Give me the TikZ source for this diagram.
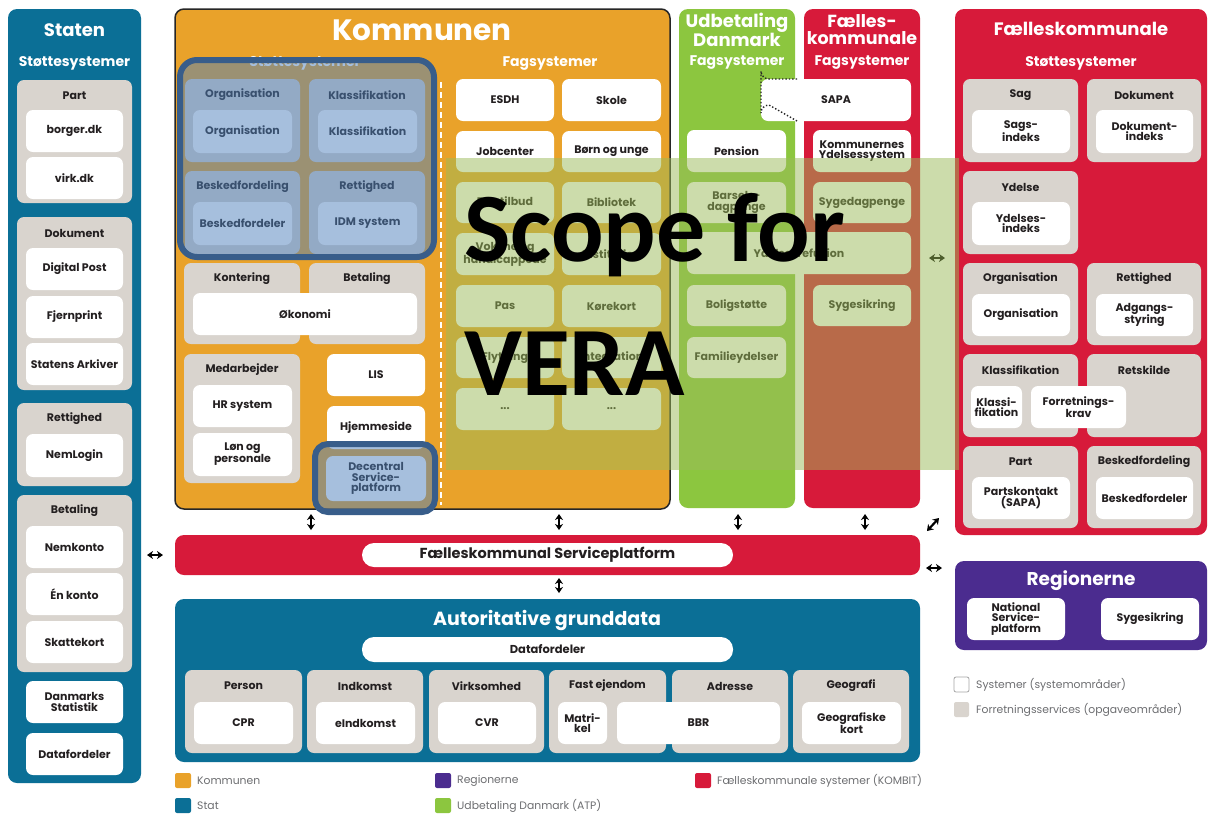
\documentclass[tikz,border=0pt]{standalone}
\usepackage{fontspec}
\setmainfont{Poppins}
\newfontfamily\scopefont{Carlito}
\usetikzlibrary{arrows.meta}

\definecolor{statblue}{HTML}{0B6F96}
\definecolor{kommorange}{HTML}{E9A22A}
\definecolor{udbgreen}{HTML}{8CC63F}
\definecolor{kombitred}{HTML}{D71A3A}
\definecolor{regpurple}{HTML}{4B2C8F}
\definecolor{grpgray}{HTML}{D9D4CE}
\definecolor{txtdark}{HTML}{231F20}
\definecolor{legtxt}{HTML}{6D6E71}
\definecolor{scopegreen}{HTML}{9BBB59}
\definecolor{hlblue}{HTML}{4F81BD}
\definecolor{hlborder}{HTML}{385D8A}

\tikzset{
  area/.style={rounded corners=9pt, inner sep=0pt},
  grp/.style={fill=grpgray, rounded corners=7pt, inner sep=0pt},
  wbox/.style={fill=white, rounded corners=7pt, inner sep=0pt, align=center,
    text=txtdark, font=\bfseries\fontsize{11}{10.5}\selectfont},
  pill/.style={fill=white, rounded corners=12pt, inner sep=0pt, text=txtdark},
  gtitle/.style={inner sep=0pt, text=txtdark, font=\bfseries\fontsize{11}{11}\selectfont},
  coltitle/.style={inner sep=0pt, text=white, align=center, font=\bfseries\fontsize{18}{17}\selectfont},
  subtitle/.style={inner sep=0pt, text=white, font=\bfseries\fontsize{14}{14}\selectfont},
  legsq/.style={rounded corners=2pt, inner sep=0pt},
  legtext/.style={inner sep=0pt, anchor=west, text=legtxt, font=\fontsize{10.8}{10.8}\selectfont},
  hilite/.style={fill=hlblue, fill opacity=0.5, draw=hlborder, line width=6pt},
  scopeov/.style={fill=scopegreen, fill opacity=0.5, inner sep=0pt},
  scopetext/.style={inner sep=0pt, anchor=base west, text=black, font=\scopefont\bfseries\fontsize{98}{98}\selectfont},
  dblarrow/.style={{Stealth[length=6pt,width=8pt]}-{Stealth[length=6pt,width=8pt]}, line width=2.2pt, black},
}

% box from corner (x1,y1) to (x2,y2): style, name, x1, y1, x2, y2, text
\newcommand\mkbox[7]{\node[#1, minimum width={#5-#3}, minimum height={#6-#4}] (#2) at ({(#3+#5)/2},{(#4+#6)/2}) {#7};}
% grey service group with its heading: name, x1, y1, x2, y2, heading
\newcommand\mkgrp[6]{\mkbox{grp}{#1}{#2}{#3}{#4}{#5}{}\node[gtitle] (#1-t) at ({(#2+#4)/2},{#3+16}) {#6};}

\begin{document}
\begin{tikzpicture}[x=1pt,y=-1pt]
\fill[white] (0,0) rectangle (1208,815);
\useasboundingbox (0,0) rectangle (1208,815);

% ---------------- Staten ----------------
\mkbox{area,fill=statblue}{staten}{8}{9}{141}{783}{}
\node[coltitle] (staten-t) at (74.5,30) {Staten};
\node[subtitle] (staten-s) at (74.5,63) {Støttesystemer};
\mkgrp{st-part}{17}{80}{132}{203}{Part}
\mkbox{wbox}{borger}{26}{110}{123}{152}{borger.dk}
\mkbox{wbox}{virk}{26}{157}{123}{199}{virk.dk}
\mkgrp{st-dok}{17}{217}{132}{390}{Dokument}
\mkbox{wbox}{dpost}{26}{248}{123}{290}{Digital Post}
\mkbox{wbox}{fjern}{26}{296}{123}{338}{Fjernprint}
\mkbox{wbox}{arkiv}{26}{343}{123}{385}{Statens Arkiver}
\mkgrp{st-ret}{17}{403}{132}{486}{Rettighed}
\mkbox{wbox}{nemlogin}{26}{434}{123}{477}{NemLogin}
\mkgrp{st-bet}{17}{495}{132}{672}{Betaling}
\mkbox{wbox}{nemkonto}{26}{526}{123}{568}{Nemkonto}
\mkbox{wbox}{enkonto}{26}{573}{123}{615}{Én konto}
\mkbox{wbox}{skat}{26}{621}{123}{663}{Skattekort}
\mkbox{wbox}{dst}{26}{681}{123}{723}{Danmarks\\Statistik}
\mkbox{wbox}{st-df}{26}{733}{123}{775}{Datafordeler}

% ---------------- Kommunen ----------------
\mkbox{area,fill=kommorange,draw=black!85,line width=1.5pt}{kommunen}{175}{9}{670}{509}{}
\node[coltitle, font=\bfseries\fontsize{29.5}{29.5}\selectfont] (kommunen-t) at (422,30) {Kommunen};
\node[subtitle] (k-stotte) at (305,63) {Støttesystemer};
\node[subtitle] (k-fag) at (550,64) {Fagsystemer};
\coordinate (kdash-top) at (441,82);
\coordinate (kdash-bot) at (441,505);
\draw[white, line width=2pt, dash pattern=on 6pt off 4pt] (kdash-top) -- (kdash-bot);

\mkgrp{k-org}{185}{79}{300}{162}{Organisation}
\mkbox{wbox}{k-orgb}{193}{110}{292}{153}{Organisation}
\mkgrp{k-kla}{309}{79}{425}{162}{Klassifikation}
\mkbox{wbox}{k-klab}{318}{110}{417}{153}{Klassifikation}
\mkgrp{k-besk}{185}{171}{300}{254}{Beskedfordeling}
\mkbox{wbox}{k-beskb}{193}{202}{292}{245}{Beskedfordeler}
\mkgrp{k-ret}{309}{171}{425}{254}{Rettighed}
\mkbox{wbox}{k-retb}{318}{202}{417}{245}{IDM system}
\mkgrp{k-kont}{184}{263}{300}{344}{Kontering}
\mkgrp{k-bet}{309}{263}{425}{344}{Betaling}
\mkbox{wbox}{k-oko}{193}{293}{417}{335}{Økonomi}
\mkgrp{k-med}{184}{354}{300}{483}{Medarbejder}
\mkbox{wbox}{k-hr}{193}{385}{292}{427}{HR system}
\mkbox{wbox}{k-lon}{193}{433}{292}{476}{Løn og\\personale}
\mkbox{wbox}{k-lis}{327}{354}{425}{396}{LIS}
\mkbox{wbox}{k-hjem}{327}{406}{425}{449}{Hjemmeside}
\mkbox{wbox}{k-dsp}{326}{456}{426}{501}{Decentral\\Service-\\platform}

% Kommunen: Fagsystemer
\mkbox{wbox}{f-esdh}{456}{79}{554}{121}{ESDH}
\mkbox{wbox}{f-skole}{562}{79}{661}{121}{Skole}
\mkbox{wbox}{f-job}{456}{131}{554}{172}{Jobcenter}
\mkbox{wbox}{f-born}{562}{131}{661}{172}{Børn og unge}
\mkbox{wbox}{f-dag}{456}{182}{554}{223}{Dagtilbud}
\mkbox{wbox}{f-bib}{562}{182}{661}{223}{Bibliotek}
\mkbox{wbox}{f-voks}{456}{233}{554}{275}{Voksne og\\handicappede}
\mkbox{wbox}{f-inst}{562}{233}{661}{275}{Institution}
\mkbox{wbox}{f-pas}{456}{285}{554}{327}{Pas}
\mkbox{wbox}{f-kore}{562}{285}{661}{327}{Kørekort}
\mkbox{wbox}{f-flyt}{456}{337}{554}{378}{Flytning}
\mkbox{wbox}{f-integ}{562}{337}{661}{378}{Integration}
\mkbox{wbox}{f-more1}{456}{388}{554}{430}{...}
\mkbox{wbox}{f-more2}{562}{388}{661}{430}{...}

% ---------------- Udbetaling Danmark / Fælleskommunale fagsystemer ----------------
\mkbox{area,fill=udbgreen}{udb}{679}{9}{795}{508}{}
\node[coltitle, font=\bfseries\fontsize{18}{17}\selectfont] (udb-t) at (737,29.5) {Udbetaling\\Danmark};
\node[subtitle] (udb-s) at (737,63) {Fagsystemer};
\mkbox{area,fill=kombitred}{fkfag}{804}{9}{920}{508}{}
\node[coltitle, font=\bfseries\fontsize{17.5}{17}\selectfont] (fkfag-t) at (862,29.5) {Fælles-\\kommunale};
\node[subtitle] (fkfag-s) at (862,63) {Fagsystemer};

\mkbox{wbox}{sapa}{761}{79}{911}{121}{SAPA}
\coordinate (sapa-d1) at (797,79);
\coordinate (sapa-d2) at (797,121);
\draw[black!85, line width=1.4pt, dotted] (sapa-d1) -- (769,79) arc[start angle=90, end angle=180, radius=8]
  -- (761,113) arc[start angle=180, end angle=270, radius=8] -- (sapa-d2);

\mkbox{wbox}{pension}{687}{130}{786}{172}{Pension}
\mkbox{wbox}{kys}{813}{130}{911}{172}{Kommunernes\\Ydelsessystem}
\mkbox{wbox}{barsel}{687}{182}{786}{223}{Barsels-\\dagpenge}
\mkbox{wbox}{syged}{813}{182}{911}{223}{Sygedagpenge}
\mkbox{wbox}{refusion}{687}{232}{911}{274}{Ydelsesrefusion}
\mkbox{wbox}{bolig}{687}{285}{786}{326}{Boligstøtte}
\mkbox{wbox}{sygesik}{813}{285}{911}{326}{Sygesikring}
\mkbox{wbox}{familie}{687}{337}{786}{378}{Familieydelser}

% ---------------- Fælleskommunale støttesystemer ----------------
\mkbox{area,fill=kombitred}{fks}{955}{9}{1207}{535}{}
\node[coltitle] (fks-t) at (1081,29) {Fælleskommunale};
\node[subtitle] (fks-s) at (1081,63) {Støttesystemer};
\mkgrp{fks-sag}{963}{79}{1078}{162}{Sag}
\mkbox{wbox}{sagsidx}{972}{110}{1070}{153}{Sags-\\indeks}
\mkgrp{fks-dok}{1087}{79}{1201}{162}{Dokument}
\mkbox{wbox}{dokidx}{1096}{110}{1193}{153}{Dokument-\\indeks}
\mkgrp{fks-ydelse}{963}{171}{1078}{254}{Ydelse}
\mkbox{wbox}{ydidx}{972}{202}{1070}{245}{Ydelses-\\indeks}
\mkgrp{fks-org}{963}{263}{1078}{345}{Organisation}
\mkbox{wbox}{fks-orgb}{972}{294}{1070}{336}{Organisation}
\mkgrp{fks-ret}{1087}{263}{1201}{345}{Rettighed}
\mkbox{wbox}{adgang}{1096}{294}{1193}{336}{Adgangs-\\styring}
\mkgrp{fks-kla}{963}{354}{1078}{437}{Klassifikation}
\mkgrp{fks-retsk}{1087}{354}{1201}{437}{Retskilde}
\mkbox{wbox}{fks-klab}{971}{386}{1022}{428}{Klassi-\\fikation}
\mkbox{wbox}{forrkrav}{1031}{386}{1126}{428}{Forretnings-\\krav}
\mkgrp{fks-part}{963}{446}{1078}{528}{Part}
\mkbox{wbox}{partsk}{972}{477}{1070}{519}{Partskontakt\\(SAPA)}
\mkgrp{fks-besk}{1087}{446}{1201}{528}{Beskedfordeling}
\mkbox{wbox}{fks-beskb}{1096}{477}{1193}{519}{Beskedfordeler}

% ---------------- Fælleskommunal Serviceplatform ----------------
\mkbox{area,fill=kombitred}{fksp}{175}{535}{920}{575}{}
\mkbox{pill, font=\bfseries\fontsize{14.5}{14.5}\selectfont}{fksp-b}{362}{543}{733}{567}{Fælleskommunal Serviceplatform}

% ---------------- Autoritative grunddata ----------------
\mkbox{area,fill=statblue}{auto}{175}{599}{920}{762}{}
\node[coltitle, font=\bfseries\fontsize{19}{19}\selectfont] (auto-t) at (547,620) {Autoritative grunddata};
\mkbox{pill, font=\bfseries\fontsize{11.5}{11.5}\selectfont}{auto-df}{362}{637}{733}{662}{Datafordeler}
\mkgrp{a-person}{185}{670}{302}{753}{Person}
\mkbox{wbox}{cpr}{194}{702}{293}{744}{CPR}
\mkgrp{a-indk}{307}{670}{423}{753}{Indkomst}
\mkbox{wbox}{eindk}{316}{702}{415}{744}{eIndkomst}
\mkgrp{a-virk}{429}{670}{544}{753}{Virksomhed}
\mkbox{wbox}{cvr}{438}{702}{536}{744}{CVR}
\mkgrp{a-fast}{549}{670}{666}{753}{Fast ejendom}
\mkgrp{a-adr}{672}{670}{788}{753}{Adresse}
\mkbox{wbox}{matr}{558}{702}{607}{744}{Matri-\\kel}
\mkbox{wbox}{bbr}{617}{702}{780}{744}{BBR}
\mkgrp{a-geo}{793}{670}{909}{753}{Geografi}
\mkbox{wbox}{geokort}{802}{702}{901}{744}{Geografiske\\kort}

% ---------------- Regionerne ----------------
\mkbox{area,fill=regpurple}{reg}{955}{561}{1207}{650}{}
\node[coltitle, font=\bfseries\fontsize{18.5}{18.5}\selectfont] (reg-t) at (1081,581) {Regionerne};
\mkbox{wbox}{nsp}{967}{598}{1065}{640}{National\\Service-\\platform}
\mkbox{wbox}{reg-syg}{1101}{598}{1199}{640}{Sygesikring}

% ---------------- Legends ----------------
\mkbox{legsq, fill=white, draw=black!35, line width=0.8pt}{leg-sys}{954}{677}{969}{692}{}
\node[legtext] (leg-sys-t) at (976,684.5) {Systemer (systemområder)};
\mkbox{legsq, fill=grpgray}{leg-fs}{954}{702}{969}{717}{}
\node[legtext] (leg-fs-t) at (976,709.5) {Forretningsservices (opgaveområder)};

\mkbox{legsq, fill=kommorange}{leg-k}{175}{773}{191}{788}{}
\node[legtext] (leg-k-t) at (197,780.5) {Kommunen};
\mkbox{legsq, fill=statblue}{leg-s}{175}{798}{191}{813}{}
\node[legtext] (leg-s-t) at (197,805.5) {Stat};
\mkbox{legsq, fill=regpurple}{leg-r}{435}{773}{451}{788}{}
\node[legtext] (leg-r-t) at (457,780.5) {Regionerne};
\mkbox{legsq, fill=udbgreen}{leg-u}{435}{798}{451}{813}{}
\node[legtext] (leg-u-t) at (457,805.5) {Udbetaling Danmark (ATP)};
\mkbox{legsq, fill=kombitred}{leg-f}{695}{773}{711}{788}{}
\node[legtext] (leg-f-t) at (717,780.5) {Fælleskommunale systemer (KOMBIT)};

% ---------------- Connection arrows ----------------
\coordinate (v1a) at (311,514); \coordinate (v1b) at (311,530);
\coordinate (v2a) at (559,514); \coordinate (v2b) at (559,530);
\coordinate (v3a) at (738,514); \coordinate (v3b) at (738,530);
\coordinate (v4a) at (865,514); \coordinate (v4b) at (865,530);
\coordinate (v5a) at (559,578); \coordinate (v5b) at (559,593);
\coordinate (h1a) at (147,555); \coordinate (h1b) at (163,555);
\coordinate (h2a) at (929,258); \coordinate (h2b) at (945,258);
\coordinate (h3a) at (926,568); \coordinate (h3b) at (942,568);
\coordinate (d1a) at (927,531); \coordinate (d1b) at (939,518);
\foreach \a/\b in {v1a/v1b, v2a/v2b, v3a/v3b, v4a/v4b, v5a/v5b, h1a/h1b, h2a/h2b, h3a/h3b, d1a/d1b}
  \draw[dblarrow] (\a) -- (\b);

% ---------------- Highlighted areas ----------------
\mkbox{hilite, rounded corners=17pt}{hl-stotte}{180}{60}{434}{257}{}
\mkbox{hilite, rounded corners=13pt}{hl-dsp}{315}{444}{435}{512}{}

% ---------------- Scope overlay ----------------
\mkbox{scopeov}{vera-ov}{446}{158}{959}{470}{}
\node[scopetext] (scope-l1) at (464,261) {Scope for};
\node[scopetext] (scope-l2) at (464,395) {VERA};

\end{tikzpicture}
\end{document}
